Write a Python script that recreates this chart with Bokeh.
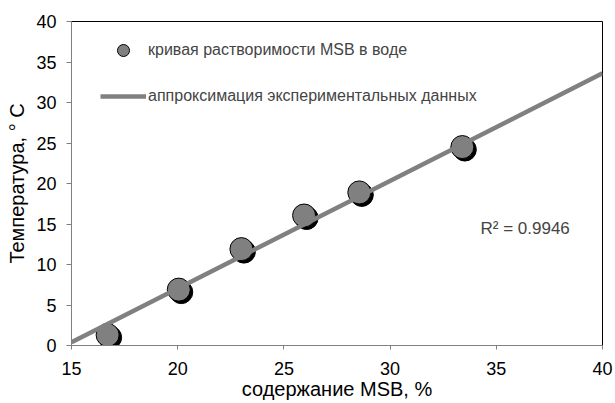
from bokeh.plotting import figure
from bokeh.models import Range1d, Legend, LegendItem, Label, FixedTicker, ColumnDataSource
from bokeh.embed import file_html
from bokeh.resources import INLINE

# data
msb_content = [16.7, 20.05, 23.0, 25.95, 28.55, 33.4]
temperature = [1.3, 6.9, 11.9, 16.05, 18.9, 24.5]
fit_x = [15, 40]
fit_y = [0.4, 33.6]
x_ticks = [15, 20, 25, 30, 35, 40]
y_ticks = [0, 5, 10, 15, 20, 25, 30, 35, 40]
r2_text = "R² = 0.9946"
legend_points = "кривая растворимости MSB в воде"
legend_line = "аппроксимация экспериментальных данных"
x_label = "содержание MSB, %"
y_label = "Температура, ° С"

FONT = "Liberation Sans"

W, H = 615, 403
BL, BR, BT, BB = 71, 13, 21, 58
p = figure(width=W, height=H, output_backend="svg", toolbar_location=None,
           x_range=Range1d(15, 40), y_range=Range1d(0, 40),
           min_border_left=BL, min_border_right=BR, min_border_top=BT, min_border_bottom=BB)
p.xgrid.visible = False
p.ygrid.visible = False
p.outline_line_color = "black"
p.outline_line_width = 1
p.background_fill_color = "white"
p.border_fill_color = "white"

# shadow offsets in pixels converted to data units
frame_w = W - BL - BR
frame_h = H - BT - BB
dx = 2.5 * 25 / frame_w
dy = -2.5 * 40 / frame_h

shadow = ColumnDataSource(dict(x=[v + dx for v in msb_content], y=[v + dy for v in temperature]))
pts = ColumnDataSource(dict(x=msb_content, y=temperature))

p.scatter("x", "y", source=shadow, size=23, fill_color="black", line_color="black")
r_pts = p.scatter("x", "y", source=pts, size=23, fill_color="#808080", line_color="black", line_width=1)
r_line = p.line(fit_x, fit_y, line_color="#808080", line_width=4.5)

for ax in (p.xaxis[0], p.yaxis[0]):
    ax.axis_line_color = "#808080"
    ax.major_tick_line_color = "#808080"
    ax.minor_tick_line_color = None
    ax.major_tick_in = 0
    ax.major_label_text_font = FONT
    ax.major_label_text_font_size = "18px"
    ax.major_label_text_color = "black"
    ax.axis_label_text_font = FONT
    ax.axis_label_text_font_size = "20px"
    ax.axis_label_text_font_style = "normal"
    ax.axis_label_text_color = "black"

p.xaxis.ticker = FixedTicker(ticks=x_ticks)
p.yaxis.ticker = FixedTicker(ticks=y_ticks)
p.xaxis.major_tick_out = 4
p.yaxis.major_tick_out = 5
p.xaxis.major_label_standoff = 12
p.yaxis.major_label_standoff = 10
p.xaxis.axis_label = x_label
p.yaxis.axis_label = y_label
p.xaxis.axis_label_standoff = 0
p.yaxis.axis_label_standoff = 5

legend = Legend(items=[LegendItem(label=legend_points, renderers=[r_pts]),
                       LegendItem(label=legend_line, renderers=[r_line])],
                location=(29, 234), padding=0, margin=0, spacing=16,
                glyph_width=46, glyph_height=30, label_standoff=2,
                label_text_font=FONT, label_text_font_size="16px",
                border_line_color=None, background_fill_alpha=0)
p.add_layout(legend, "center")

p.add_layout(Label(x=480 - BL, y=(H - BB) - 228, x_units="screen", y_units="screen",
                   text=r2_text, text_font=FONT, text_font_size="17px",
                   text_baseline="middle"))

open("out.html", "w").write(file_html(p, INLINE))
